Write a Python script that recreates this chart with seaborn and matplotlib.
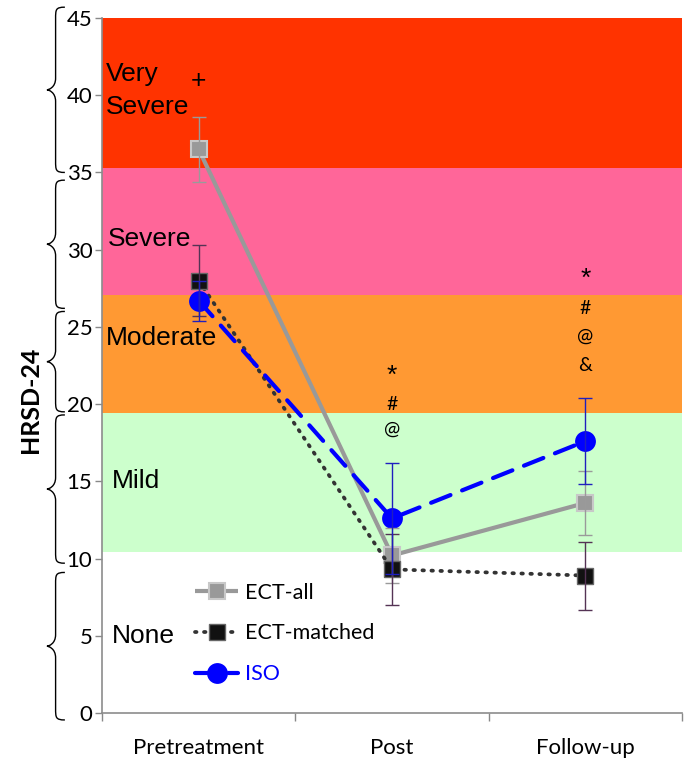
import numpy as np
import pandas as pd
import matplotlib
matplotlib.use("Agg")
import matplotlib.pyplot as plt
import matplotlib.transforms as mtransforms
from matplotlib.path import Path
from matplotlib.patches import PathPatch
import seaborn as sns

# ---------------- data ----------------
phases = ["Pretreatment", "Post", "Follow-up"]
series = ["ECT-all", "ECT-matched", "ISO"]
ect_all = [36.5, 10.2, 13.6]
ect_all_err = [2.1, 1.8, 2.1]
ect_matched = [28.0, 9.3, 8.9]
ect_matched_err = [2.3, 2.3, 2.2]
iso = [26.7, 12.6, 17.6]
iso_err = [1.3, 3.6, 2.8]

band_labels = ["None", "Mild", "Moderate", "Severe", "Very\nSevere"]
band_edges = [0, 10.45, 19.4, 27.05, 35.3, 45]
band_colors = ["#FFFFFF", "#CCFFCC", "#FF9933", "#FF6699", "#FF3300"]
band_label_y = [5.0, 15.0, 24.3, 30.7, 40.3]
band_label_x = [-0.45, -0.45, -0.48, -0.47, -0.48]
brace_ranges = [(-0.45, 9.1), (9.7, 19.3), (19.5, 26.0), (26.2, 34.5), (35.0, 45.7)]

sig_marks = [["+"], ["*", "#", "@"], ["*", "#", "@", "&"]]
sig_y = [[40.9], [21.8, 20.0, 18.4], [28.1, 26.2, 24.4, 22.5]]

# ---------------- figure ----------------
sns.set_theme(style="white")
plt.rcParams["font.family"] = ["Lato", "DejaVu Sans"]
plt.rcParams["text.color"] = "black"

fig = plt.figure(figsize=(6.9, 7.66), dpi=100)
ax = fig.add_axes([102 / 690, 53 / 766, 580 / 690, 695 / 766])

xpos = np.arange(len(phases))

# bands
for i in range(len(band_labels)):
    ax.axhspan(band_edges[i], band_edges[i + 1], color=band_colors[i], zorder=0, lw=0)
    ax.text(band_label_x[i], band_label_y[i], band_labels[i], fontsize=19,
            family=["Liberation Sans"], va="center", ha="left", zorder=1,
            linespacing=1.45, color="black")

df = pd.DataFrame({
    "phase": np.tile(xpos, 3),
    "value": ect_all + ect_matched + iso,
    "err": ect_all_err + ect_matched_err + iso_err,
    "group": np.repeat(series, 3),
})

styles = {
    "ECT-all": dict(color="#999999", lw=3.0, ls="-", marker="s", ms=11,
                    mfc="#999999", mec="#C8C8C8", mew=1.5, ecolor="#9A9A9A"),
    "ECT-matched": dict(color="#333333", lw=2.7, ls=(0, (0.4, 2.0)), marker="s", ms=12,
                        mfc="#111111", mec="#666666", mew=1.0, ecolor="#553355"),
    "ISO": dict(color="#0000FF", lw=3.0, ls=(0, (5, 3)), marker="o", ms=15,
                mfc="#0000FF", mec="#0000FF", mew=0, ecolor="#1F1FBF"),
}
zo = {"ECT-all": 3, "ECT-matched": 4, "ISO": 5}

for g in series:
    sub = df[df["group"] == g]
    st = styles[g]
    sns.lineplot(data=sub, x="phase", y="value", ax=ax, color=st["color"],
                 lw=st["lw"], linestyle=st["ls"], marker=st["marker"], markersize=st["ms"],
                 markerfacecolor=st["mfc"], markeredgecolor=st["mec"],
                 markeredgewidth=st["mew"], label=g, zorder=zo[g],
                 dash_capstyle="round", solid_capstyle="butt", legend=False)
    ax.errorbar(sub["phase"], sub["value"], yerr=sub["err"], fmt="none",
                ecolor=st["ecolor"], elinewidth=1.0, capsize=5, capthick=1.0,
                zorder=zo[g] + 3)

# significance markers
for i, (marks, ys) in enumerate(zip(sig_marks, sig_y)):
    for m, y in zip(marks, ys):
        big = m in ("*", "+")
        ax.text(xpos[i], y, m, ha="center", va="center", fontsize=19 if big else 14,
                family=["Liberation Sans"] if big else ["Lato"], zorder=10, color="black")

# legend
lines = {l.get_label(): l for l in ax.get_lines()}
handles = [lines[s] for s in series]
leg = ax.legend(handles, series, loc="upper left", bbox_to_anchor=(0.146, 0.2),
                frameon=False, fontsize=15.5, labelspacing=0.97, handlelength=2.0,
                handletextpad=0.3, borderaxespad=0)
for t in leg.get_texts():
    t.set_color("#0000FF" if t.get_text() == "ISO" else "black")

# axes
ax.set_xlim(-0.5, 2.5)
ax.set_ylim(0, 45)
ax.set_xlabel("")
ax.set_ylabel("")
ax.set_yticks(np.arange(0, 46, 5))
ax.set_yticklabels([str(v) for v in range(0, 46, 5)], fontsize=16, color="black")
ax.set_xticks(xpos)
ax.set_xticklabels(phases, fontsize=16, color="black")
ax.set_xticks([-0.5, 0.5, 1.5, 2.5], minor=True)
ax.tick_params(axis="x", which="major", length=0, pad=18, bottom=False)
ax.tick_params(axis="x", which="minor", length=6, color="#888888", width=1,
               direction="out", bottom=True)
ax.tick_params(axis="y", length=5, color="#888888", width=1, direction="out", pad=2, left=True)
for s in ["top", "right"]:
    ax.spines[s].set_visible(False)
for s in ["left", "bottom"]:
    ax.spines[s].set_color("#8C8C8C")
    ax.spines[s].set_linewidth(1.2)
ax.grid(False)

# y label
ax.text(-0.124, 0.45, "HRSD-24", transform=ax.transAxes, rotation=90,
        ha="center", va="center", fontsize=18, fontweight="bold", color="black")

# curly braces on the left
trans = mtransforms.blended_transform_factory(ax.transAxes, ax.transData)
x_end, x_spine, x_tip = -0.064, -0.080, -0.095
r = 0.75
for (y0, y1) in brace_ranges:
    ym = (y0 + y1) / 2
    verts = [
        (x_end, y1),
        (x_spine, y1), (x_spine, y1 - r * 0.2), (x_spine, y1 - r),
        (x_spine, ym + r),
        (x_spine, ym + r * 0.2), (x_tip + 0.003, ym), (x_tip, ym),
        (x_tip + 0.003, ym), (x_spine, ym - r * 0.2), (x_spine, ym - r),
        (x_spine, y0 + r),
        (x_spine, y0 + r * 0.2), (x_spine, y0), (x_end, y0),
    ]
    codes = [Path.MOVETO,
             Path.CURVE4, Path.CURVE4, Path.CURVE4,
             Path.LINETO,
             Path.CURVE4, Path.CURVE4, Path.CURVE4,
             Path.CURVE4, Path.CURVE4, Path.CURVE4,
             Path.LINETO,
             Path.CURVE4, Path.CURVE4, Path.CURVE4]
    patch = PathPatch(Path(verts, codes), transform=trans, fill=False,
                      edgecolor="black", lw=1.0, clip_on=False)
    ax.add_patch(patch)

fig.savefig("out.png", dpi=100)
